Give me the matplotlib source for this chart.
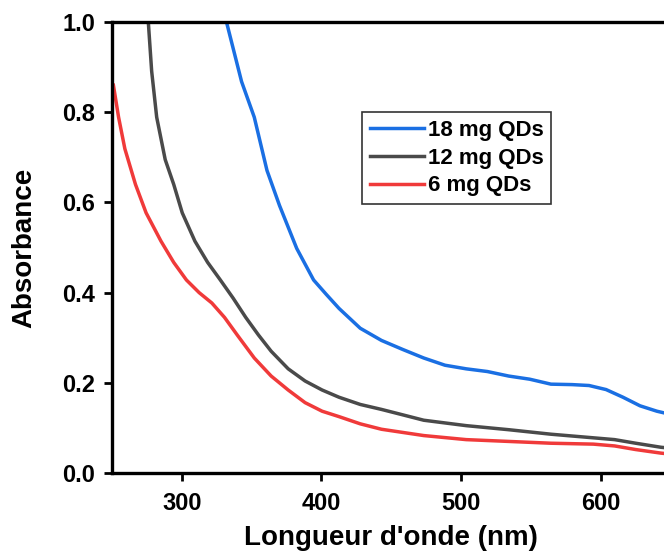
import numpy as np
from matplotlib import pyplot as plt

# values (wavelength in nm, absorbance)
wl_18 = [332, 342.8, 351.9, 361, 370, 382.3, 394.4, 403.5, 412.6, 427.8, 443, 458.2, 473.3,
         488.5, 503.7, 518.9, 534.1, 549.2, 564.4, 579.6, 591.7, 603.9, 616, 628.2, 640.3, 650]
abs_18 = [1.0, 0.868, 0.789, 0.671, 0.593, 0.498, 0.428, 0.396, 0.365, 0.321, 0.294, 0.274, 0.255,
          0.239, 0.231, 0.225, 0.215, 0.208, 0.197, 0.196, 0.194, 0.185, 0.168, 0.149, 0.137, 0.13]

wl_12 = [276, 278.4, 282, 288.1, 294.2, 300.3, 309.4, 318.5, 327.6, 336.7, 345.8, 354.9, 364,
         376.2, 388.3, 400.5, 412.6, 427.8, 443, 458.2, 473.3, 503.7, 534.1, 564.4, 594.8, 610,
         625.1, 643.3, 650]
abs_12 = [1.0, 0.891, 0.789, 0.695, 0.640, 0.577, 0.514, 0.467, 0.428, 0.388, 0.345, 0.306, 0.270,
          0.231, 0.204, 0.184, 0.168, 0.152, 0.141, 0.129, 0.117, 0.105, 0.096, 0.086, 0.078, 0.074,
          0.066, 0.057, 0.055]

wl_6 = [251, 254.7, 259.2, 266.8, 274.4, 285.1, 294.2, 303.3, 312.4, 321.5, 330.6, 339.7, 351.9,
        364, 376.2, 388.3, 400.5, 412.6, 427.8, 443, 473.3, 503.7, 534.1, 564.4, 594.8, 610, 625.1,
        643.3, 650]
abs_6 = [0.86, 0.789, 0.719, 0.640, 0.577, 0.514, 0.467, 0.428, 0.400, 0.377, 0.345, 0.306, 0.255,
         0.215, 0.184, 0.156, 0.137, 0.125, 0.109, 0.097, 0.083, 0.074, 0.070, 0.066, 0.064, 0.060,
         0.052, 0.044, 0.042]

labels = ['18 mg QDs', '12 mg QDs', '6 mg QDs']
colors = ['#1a6fe3', '#4a4a4a', '#f03a3a']

plt.rcParams['font.family'] = ['Liberation Sans', 'DejaVu Sans']
plt.rcParams['font.weight'] = 'bold'

fig = plt.figure(figsize=(6.64, 5.56), dpi=100)
ax = fig.add_axes([0.1687, 0.1493, 0.841, 0.811])

for x, y, lab, c in zip([wl_18, wl_12, wl_6], [abs_18, abs_12, abs_6], labels, colors):
	ax.plot(x, y, color=c, lw=2.5, label=lab)

ax.set_xlim(250, 650)
ax.set_ylim(0, 1.0)
ax.set_xticks([300, 400, 500, 600])
ax.set_yticks(np.arange(0, 1.01, 0.2))
ax.yaxis.set_major_formatter(plt.FormatStrFormatter('%.1f'))

for s in ax.spines.values():
	s.set_linewidth(2.4)
ax.tick_params(direction='out', length=6, width=2, labelsize=17, pad=6)
ax.tick_params(axis='x', pad=8)

ax.set_xlabel("Longueur d'onde (nm)", fontsize=20, fontweight='bold', labelpad=7)
ax.set_ylabel('Absorbance', fontsize=20, fontweight='bold', labelpad=18)

leg = ax.legend(loc='upper left', bbox_to_anchor=(0.448, 0.80), fontsize=16,
                frameon=True, fancybox=False, edgecolor='black', handlelength=2.45,
                handletextpad=0.15, labelspacing=0.3, borderpad=0.35, borderaxespad=0)
leg.get_frame().set_linewidth(1.2)
for t in leg.get_texts():
	t.set_fontweight('bold')

fig.savefig('out.png', dpi=100)
